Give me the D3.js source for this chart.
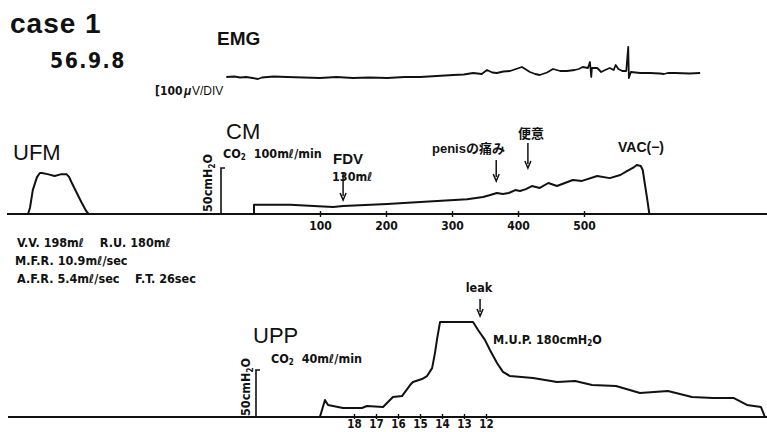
<!DOCTYPE html>
<html>
<head>
<meta charset="utf-8">
<script src="https://cdn.jsdelivr.net/npm/d3@7"></script>
<style>
body { margin: 0; background: #fff; }
svg { display: block; }
text { fill: #111; font-family: "Liberation Sans", Arial, sans-serif; white-space: pre; }
.cond { font-family: "DejaVu Sans Condensed", "DejaVu Sans", sans-serif; font-weight: bold; }
.bold { font-weight: bold; }
.jp { font-family: "Noto Sans CJK JP", sans-serif; font-weight: bold; }
</style>
</head>
<body>
<script>
const W = 767, H = 432

// CM: infused volume (ml) vs intravesical pressure (cmH2O)
const cmVolume   = [0, 0, 55, 105, 120, 135, 202, 252, 297, 323, 347, 358, 368, 377, 386, 396, 403, 412, 421, 433, 446, 459, 471, 483, 497, 520, 539, 555, 565, 576, 580, 586, 589, 592, 596, 599]
const cmPressure = [0, 10, 10, 8.2, 7.6, 8.7, 11, 13, 15, 16, 18.5, 20.7, 22.8, 21.7, 22.8, 26, 25, 27, 30.4, 28.3, 33.7, 30.4, 33.7, 37, 36, 41.3, 39, 42.4, 46.7, 51, 53.3, 52.2, 47.8, 33.7, 15, 0]
const cmTicks = [100, 200, 300, 400, 500]

// UFM: time (sec) vs flow (ml/sec)
const ufmTime = [0, 0.8, 2, 3.7, 4.9, 5.7, 8.1, 11, 13.8, 15.9, 17, 17.9, 19.9, 22, 24, 25, 26]
const ufmFlow = [0, 1.6, 6.4, 9.8, 10.9, 10.9, 10.6, 10.1, 10.6, 10.6, 9.8, 8.5, 5.9, 3.2, 0.8, 0, 0]

// UPP: catheter position (cm) vs urethral pressure (cmH2O)
const uppPosition = [19.55, 19.32, 19.18, 18.5, 17.64, 17.41, 16.68, 16.23, 15.82, 15.45, 15.32, 14.91, 14.68, 14.45, 14.32, 14.23, 14.09, 12.59, 12.36, 12.05, 11.82, 11.5, 11.23, 10.91, 9.86, 8.77, 7.95, 7.18, 6.09, 5.0, 3.73, 2.64, 1.68, 0.73, 0.14, -0.5, -0.68]
const uppPressure = [0, 18, 12.8, 9.6, 9.6, 11.7, 10.6, 21.3, 22.3, 34, 37.2, 40.4, 43.6, 52, 68, 82, 101, 101, 92.6, 82, 71.3, 57.5, 48, 43.6, 41.5, 37.2, 38.3, 34, 33, 25.5, 27.7, 21.3, 20.2, 20.2, 12.8, 10.6, 0]
const uppTicks = [18, 17, 16, 15, 14, 13, 12]

// EMG: sampled on the CM volume axis, amplitude in microvolts
const emgT = [-42, -30, -21, -12, -2, 6, 12, 30, 50, 75, 100, 125, 150, 175, 202, 228, 252, 277, 302, 318, 332, 345, 353, 361, 368, 378, 388, 397, 406, 418, 426, 433, 444, 453, 464, 474, 486, 492, 498, 506, 509, 511, 512, 520, 526, 529, 532, 539, 545, 548, 552, 558, 564, 567, 568, 571, 578, 585, 600, 615, 621, 627, 638, 660, 676]
const emgV = [0, 5, -5, 0, -10, -20, -5, 5, 0, -5, -10, 0, -10, -5, -10, 0, 0, 10, 20, 25, 40, 30, 70, 45, 40, 55, 60, 80, 100, 50, 30, 20, 45, 80, 60, 60, 70, 80, 100, 90, 150, 0, 90, 90, 50, 60, 70, 90, 70, 120, 80, 60, 60, 300, -10, 50, 45, 40, 40, 35, 30, 40, 40, 35, 40]

// event markers
const cmEvents = [
  { ml: 135, y0: 173, y1: 200 },
  { ml: 367, y0: 160, y1: 181 },
  { ml: 415, y0: 143, y1: 168 }
]
const uppEvents = [{ cm: 12.27, y0: 299, y1: 316 }]

const svg = d3.select("body").append("svg")
    .attr("width", W)
    .attr("height", H)

const g = svg.append("g")

// scales
const xCM = d3.scaleLinear().domain([0, 100]).range([254, 320])
const yCM = d3.scaleLinear().domain([0, 50]).range([214, 168])
const xUFM = d3.scaleLinear().domain([0, 26]).range([28, 91])
const yUFM = d3.scaleLinear().domain([0, 10.9]).range([214, 173])
const xUPP = d3.scaleLinear().domain([18, 12]).range([354, 486])
const yUPP = d3.scaleLinear().domain([0, 50]).range([417, 370])
const yEMG = d3.scaleLinear().domain([0, 100]).range([77, 67])

const line = (xs, ys, X, Y) => d3.line().x(i => X(xs[i])).y(i => Y(ys[i]))(d3.range(xs.length))

function trace(xs, ys, X, Y, w) {
  g.append("path")
    .attr("d", line(xs, ys, X, Y))
    .attr("fill", "none")
    .attr("stroke", "#111")
    .attr("stroke-width", w || 2)
    .attr("stroke-linejoin", "round")
}

// baselines
g.append("line").attr("x1", 7).attr("x2", W).attr("y1", yCM(0)).attr("y2", yCM(0))
  .attr("stroke", "#111").attr("stroke-width", 2)
g.append("line").attr("x1", 8).attr("x2", W).attr("y1", yUPP(0)).attr("y2", yUPP(0))
  .attr("stroke", "#111").attr("stroke-width", 2)

trace(ufmTime, ufmFlow, xUFM, yUFM)
trace(cmVolume, cmPressure, xCM, yCM)
trace(uppPosition, uppPressure, xUPP, yUPP)
trace(emgT, emgV, xCM, yEMG, 1.8)

// 50 cmH2O scale bars
function scaleBar(x, Y) {
  g.append("path")
    .attr("d", `M${x},${Y(0)}V${Y(50)}H${x + 4}`)
    .attr("fill", "none").attr("stroke", "#111").attr("stroke-width", 1.6)
}
scaleBar(221, yCM)
scaleBar(256, yUPP)

function rotLabel(x, y) {
  const t = g.append("text").attr("transform", `translate(${x},${y}) rotate(-90)`)
    .attr("class", "cond").attr("font-size", 12.5)
  t.append("tspan").text("50cmH")
  t.append("tspan").attr("font-size", 8).attr("dy", 3).text("2")
  t.append("tspan").attr("dy", -3).text("O")
}
rotLabel(212, 212)
rotLabel(250, 416)

// axes
const axCM = d3.axisBottom(xCM).tickValues(cmTicks).tickSize(3).tickPadding(4)
const gx1 = g.append("g").attr("transform", `translate(0,${yCM(0)})`).call(axCM)
const axUPP = d3.axisBottom(xUPP).tickValues(uppTicks).tickFormat(d3.format("d")).tickSize(2).tickPadding(1)
const gx2 = g.append("g").attr("transform", `translate(0,${yUPP(0)})`).call(axUPP)
;[gx1, gx2].forEach(a => {
  a.select(".domain").remove()
  a.selectAll(".tick line").attr("y1", -3).attr("stroke", "#111").attr("stroke-width", 1.4)
  a.selectAll(".tick text").attr("class", "cond").attr("font-size", 12).attr("fill", "#111")
    .attr("font-family", null)
})
gx2.selectAll(".tick text").attr("font-size", 11.5)

// arrows
function arrow(x, y0, y1) {
  g.append("line").attr("x1", x).attr("x2", x).attr("y1", y0).attr("y2", y1 - 4)
    .attr("stroke", "#111").attr("stroke-width", 1.5)
  g.append("path").attr("d", `M${x - 3},${y1 - 7}L${x},${y1}L${x + 3},${y1 - 7}`)
    .attr("fill", "none").attr("stroke", "#111").attr("stroke-width", 1.5)
}
cmEvents.forEach(e => arrow(xCM(e.ml), e.y0, e.y1))
uppEvents.forEach(e => arrow(xUPP(e.cm), e.y0, e.y1))

// texts
function txt(x, y, s, size, cls, anchor) {
  return g.append("text").attr("x", x).attr("y", y).attr("font-size", size)
    .attr("class", cls || null).attr("text-anchor", anchor || "start").text(s)
}
txt(10, 33, "case 1", 28, "bold").attr("letter-spacing", 1)
txt(50, 68, "56.9.8", 21, "cond").attr("letter-spacing", 1.5)
txt(217, 45, "EMG", 19, "bold")
txt(155, 95, "[100", 12, "cond")
txt(184, 95, "μ", 12, "bold").attr("font-style", "italic")
txt(192, 95, "V/DIV", 12)

txt(13, 160, "UFM", 22)
txt(226, 139, "CM", 22)
const co1 = txt(223, 158, "", 12.5, "cond")
co1.append("tspan").text("CO")
co1.append("tspan").attr("font-size", 8).attr("dy", 2).text("2")
co1.append("tspan").attr("dy", -2).text("  100mℓ/min")
txt(333, 164, "FDV", 15, "bold")
txt(332, 181, "130mℓ", 12.5, "cond")
const pen = txt(432, 153, "", 13, "bold")
pen.append("tspan").text("penis")
pen.append("tspan").attr("class", "jp").attr("font-size", 13).text("の痛み")
txt(518, 138, "便意", 13, "jp")
txt(618, 152, "VAC(−)", 14, "bold")

txt(17, 247, "V.V. 198mℓ    R.U. 180mℓ", 12.5, "cond")
txt(15, 265, "M.F.R. 10.9mℓ/sec", 12.5, "cond")
txt(17, 283, "A.F.R. 5.4mℓ/sec    F.T. 26sec", 12.5, "cond")

txt(253, 343, "UPP", 22)
const co2 = txt(271, 363, "", 12.5, "cond")
co2.append("tspan").text("CO")
co2.append("tspan").attr("font-size", 8).attr("dy", 2).text("2")
co2.append("tspan").attr("dy", -2).text("  40mℓ/min")
txt(479, 292, "leak", 12.5, "cond", "middle")
const mup = txt(493, 344, "", 12.5, "cond")
mup.append("tspan").text("M.U.P. 180cmH")
mup.append("tspan").attr("font-size", 8).attr("dy", 2).text("2")
mup.append("tspan").attr("dy", -2).text("O")
</script>
</body>
</html>
